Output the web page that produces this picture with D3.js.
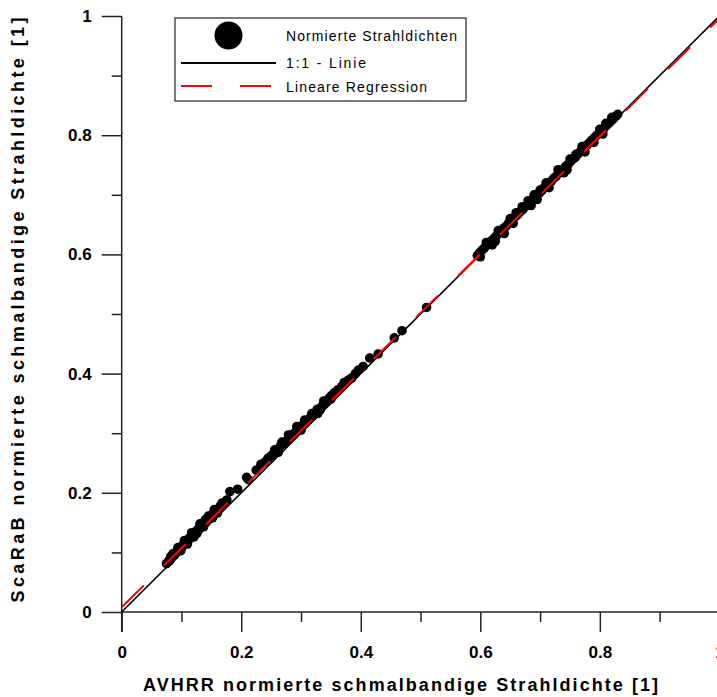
<!DOCTYPE html>
<html>
<head>
<meta charset="utf-8">
<script src="https://cdn.jsdelivr.net/npm/d3@7"></script>
<style>
  body { margin: 0; background: #fff; }
  svg text { font-family: "Liberation Sans", Arial, sans-serif; fill: #000; }
</style>
</head>
<body>
<div id="chart"></div>
<script>
// normierte Strahldichten, [AVHRR, ScaRaB]
let pointsLow = [
  [0.075,0.081],[0.078,0.085],[0.080,0.086],[0.083,0.090],[0.085,0.093],[0.088,0.095],
  [0.090,0.098],[0.092,0.101],[0.095,0.103],[0.097,0.106],[0.100,0.108],[0.102,0.112],
  [0.104,0.113],[0.107,0.116],[0.109,0.119],[0.111,0.121],[0.113,0.124],[0.116,0.126],
  [0.118,0.129],[0.120,0.131],[0.123,0.133],[0.125,0.136],[0.128,0.139],[0.130,0.141],
  [0.133,0.145],[0.135,0.146],[0.138,0.150],[0.141,0.152],[0.144,0.156],[0.147,0.159],
  [0.150,0.162],[0.153,0.166],[0.157,0.170],[0.161,0.172],[0.165,0.178],[0.170,0.182],
  [0.176,0.188],[0.181,0.202],[0.194,0.206],[0.209,0.226],[0.212,0.222],[0.225,0.238],
  [0.233,0.248],[0.086,0.098],[0.110,0.114],[0.126,0.132],[0.140,0.155],[0.160,0.166],
  [0.082,0.093],[0.094,0.108],[0.105,0.120],[0.117,0.133],[0.131,0.148],[0.145,0.161],
  [0.155,0.172],[0.168,0.183],[0.099,0.103],[0.121,0.126],[0.137,0.143],[0.152,0.158]
];
let pointsMid = [
  [0.240,0.252],[0.245,0.258],[0.250,0.262],[0.254,0.266],[0.258,0.270],[0.262,0.274],
  [0.266,0.279],[0.270,0.282],[0.274,0.286],[0.279,0.297],[0.282,0.292],[0.286,0.298],
  [0.290,0.301],[0.293,0.311],[0.296,0.306],[0.300,0.310],[0.304,0.315],[0.308,0.318],
  [0.312,0.322],[0.316,0.327],[0.320,0.331],[0.324,0.334],[0.327,0.340],[0.332,0.339],
  [0.335,0.345],[0.339,0.350],[0.343,0.354],[0.347,0.359],[0.351,0.363],[0.356,0.368],
  [0.362,0.373],[0.368,0.378],[0.372,0.385],[0.379,0.389],[0.385,0.393],[0.391,0.400],
  [0.396,0.406],[0.404,0.412],[0.415,0.426],[0.429,0.433],[0.456,0.460],[0.469,0.472],
  [0.510,0.511],[0.256,0.272],[0.268,0.285],[0.306,0.322],[0.318,0.333],[0.338,0.354],
  [0.262,0.268],[0.300,0.305],[0.328,0.333],[0.350,0.357]
];
let pointsHigh = [
  [0.595,0.598],[0.599,0.603],[0.603,0.607],[0.607,0.611],[0.611,0.615],[0.615,0.620],
  [0.619,0.623],[0.623,0.627],[0.627,0.631],[0.631,0.636],[0.635,0.639],[0.639,0.644],
  [0.643,0.647],[0.647,0.652],[0.651,0.655],[0.655,0.660],[0.659,0.664],[0.663,0.667],
  [0.667,0.672],[0.671,0.675],[0.675,0.680],[0.679,0.683],[0.683,0.688],[0.687,0.692],
  [0.691,0.696],[0.695,0.700],[0.699,0.703],[0.703,0.707],[0.707,0.712],[0.711,0.715],
  [0.715,0.720],[0.719,0.723],[0.723,0.728],[0.727,0.731],[0.731,0.736],[0.735,0.740],
  [0.739,0.743],[0.743,0.748],[0.747,0.751],[0.751,0.756],[0.755,0.760],[0.759,0.763],
  [0.763,0.768],[0.767,0.772],[0.771,0.776],[0.775,0.780],[0.779,0.784],[0.783,0.788],
  [0.787,0.792],[0.791,0.796],[0.795,0.800],[0.799,0.804],[0.803,0.808],[0.807,0.812],
  [0.811,0.816],[0.815,0.820],[0.819,0.824],[0.823,0.828],[0.827,0.832],[0.830,0.835],
  [0.600,0.596],[0.620,0.616],[0.650,0.660],[0.690,0.700],[0.695,0.692],[0.700,0.708],
  [0.740,0.737],[0.760,0.768],[0.790,0.788],[0.810,0.820],[0.640,0.635],[0.670,0.680],
  [0.610,0.620],[0.630,0.640],[0.660,0.670],[0.680,0.690],[0.710,0.720],[0.730,0.742],
  [0.750,0.760],[0.770,0.781],[0.800,0.810],[0.820,0.830],[0.625,0.622],[0.655,0.652],
  [0.685,0.682],[0.715,0.712],[0.745,0.742],[0.775,0.772],[0.805,0.802]
];

// lines: 1:1 and regression (y = a + b*x)
let oneToOne = [[0, 0], [1, 1]];
let regression = [[0, 0.008], [1, 0.996]];

let majorTicks = [0, 0.2, 0.4, 0.6, 0.8, 1];
let minorTicks = [0.1, 0.3, 0.5, 0.7, 0.9];
let tickLabels = ["0", "0.2", "0.4", "0.6", "0.8", "1"];

let legendLabels = ["Normierte Strahldichten", "1:1 - Linie", "Lineare Regression"];
let xTitle = "AVHRR normierte schmalbandige Strahldichte [1]";
let yTitle = "ScaRaB normierte schmalbandige Strahldichte [1]";

let width = 717;
let height = 697;

let svg = d3.select("#chart").append("svg").attr("width", width).attr("height", height);

let x = d3.scaleLinear().domain([0, 1]).range([121.7, 719.4]);
let y = d3.scaleLinear().domain([0, 1]).range([612, 16]);

// minor ticks
svg.append("g")
  .attr("transform", "translate(0," + y(0) + ")")
  .call(d3.axisBottom(x).tickValues(minorTicks).tickSize(10).tickFormat(""))
  .call(g => g.select(".domain").remove());
svg.append("g")
  .attr("transform", "translate(" + x(0) + ",0)")
  .call(d3.axisLeft(y).tickValues(minorTicks).tickSize(10).tickFormat(""))
  .call(g => g.select(".domain").remove());

// major ticks with labels
let xAxis = svg.append("g")
  .attr("transform", "translate(0," + y(0) + ")")
  .call(d3.axisBottom(x).tickValues(majorTicks).tickSize(20).tickPadding(14)
    .tickFormat((d, i) => tickLabels[i]));
let yAxis = svg.append("g")
  .attr("transform", "translate(" + x(0) + ",0)")
  .call(d3.axisLeft(y).tickValues(majorTicks).tickSize(20).tickPadding(10)
    .tickFormat((d, i) => tickLabels[i]));

svg.selectAll(".tick line").attr("stroke", "#222").attr("stroke-width", 1.5);
[xAxis, yAxis].forEach(a => {
  a.select(".domain").remove();
  a.selectAll("text").style("font-size", "17px").style("font-weight", "bold")
    .style("font-family", "'Liberation Sans', Arial, sans-serif").attr("fill", "#000");
});

// axis lines
svg.append("line").attr("x1", x(0)).attr("x2", width).attr("y1", y(0)).attr("y2", y(0))
  .attr("stroke", "#222").attr("stroke-width", 1.5);
svg.append("line").attr("x1", x(0)).attr("x2", x(0)).attr("y1", y(0) + 20).attr("y2", y(1))
  .attr("stroke", "#222").attr("stroke-width", 1.5);

let lineGen = d3.line().x(d => x(d[0])).y(d => y(d[1]));

// 1:1 line
svg.append("path").attr("d", lineGen(oneToOne))
  .attr("stroke", "#000").attr("stroke-width", 1.6).attr("fill", "none");

// points
let allPoints = pointsLow.concat(pointsMid, pointsHigh);
svg.append("g").selectAll("circle").data(allPoints).enter().append("circle")
  .attr("cx", d => x(d[0])).attr("cy", d => y(d[1])).attr("r", 4.8).attr("fill", "#000");

// regression
svg.append("path").attr("d", lineGen(regression))
  .attr("stroke", "#ff0000").attr("stroke-width", 2).attr("fill", "none")
  .attr("stroke-dasharray", "31,28");

// legend
let legend = svg.append("g");
legend.append("rect").attr("x", 175).attr("y", 18).attr("width", 291).attr("height", 83)
  .attr("fill", "#fff").attr("stroke", "#222").attr("stroke-width", 1.2);
legend.append("circle").attr("cx", 228.5).attr("cy", 35.5).attr("r", 14).attr("fill", "#000");
legend.append("line").attr("x1", 181).attr("x2", 276).attr("y1", 63).attr("y2", 63)
  .attr("stroke", "#000").attr("stroke-width", 2);
legend.append("line").attr("x1", 181).attr("x2", 276).attr("y1", 86).attr("y2", 86)
  .attr("stroke", "#ff0000").attr("stroke-width", 2).attr("stroke-dasharray", "31,28");
let legendY = [40.7, 68.3, 91.7];
legend.selectAll("text.lg").data(legendLabels).enter().append("text")
  .attr("class", "lg")
  .attr("x", 286).attr("y", (d, i) => legendY[i])
  .style("font-size", "14px").attr("textLength", (d, i) => [171, 80, 141][i])
  .attr("lengthAdjust", "spacing")
  .text(d => d);

// axis titles
svg.append("text").attr("x", 400.5).attr("y", 691).attr("text-anchor", "middle")
  .style("font-size", "18px").style("font-weight", "bold")
  .attr("textLength", 515).attr("lengthAdjust", "spacing").text(xTitle);
svg.append("text").attr("transform", "translate(24,310) rotate(-90)").attr("text-anchor", "middle")
  .style("font-size", "18px").style("font-weight", "bold")
  .attr("textLength", 585).attr("lengthAdjust", "spacing").text(yTitle);
</script>
</body>
</html>
